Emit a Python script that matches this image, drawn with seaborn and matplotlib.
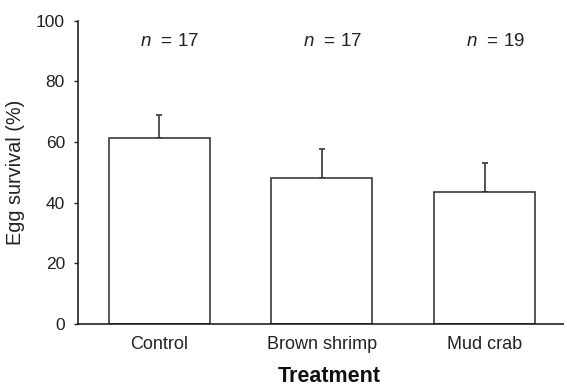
import matplotlib
matplotlib.use("Agg")
import matplotlib.pyplot as plt
import seaborn as sns
import pandas as pd

categories = ["Control", "Brown shrimp", "Mud crab"]
survival = [61.4, 48.0, 43.4]
upper_error = [7.5, 9.8, 9.8]
n_labels = ["17", "17", "19"]

sns.set_theme(style="ticks")
plt.rcParams["font.family"] = ["Liberation Sans", "DejaVu Sans"]
plt.rcParams["mathtext.fontset"] = "custom"
plt.rcParams["mathtext.it"] = "Liberation Sans:italic"
plt.rcParams["mathtext.rm"] = "Liberation Sans"

df = pd.DataFrame({"Treatment": categories, "Survival": survival})

fig = plt.figure(figsize=(5.64, 3.88), dpi=100)
ax = fig.add_axes([0.1378, 0.165, 0.892, 0.782])

sns.barplot(data=df, x="Treatment", y="Survival", ax=ax, color="white",
            edgecolor="#2a2a2a", linewidth=1.1, width=0.62, errorbar=None,
            saturation=1)

ax.errorbar(range(len(categories)), survival,
            yerr=[[0] * len(categories), upper_error],
            fmt="none", ecolor="#444444", elinewidth=1.3, capsize=2.5,
            capthick=1.3, zorder=0)

for i, n in enumerate(n_labels):
    ax.text(i + 0.066, 93.2, r"$\it{n}$  = " + n, ha="center", va="center",
            fontsize=13.5, color="#222222")

ax.set_ylim(0, 100)
ax.set_xlim(-0.5, 2.59)
ax.set_yticks([0, 20, 40, 60, 80, 100])
ax.set_ylabel("Egg survival (%)", fontsize=14.3, color="#222222", labelpad=8)
ax.set_xlabel("Treatment", fontsize=15.5, fontweight="bold", color="#111111",
              labelpad=9)

ax.tick_params(axis="y", length=3.2, width=1, color="#222222",
               labelsize=12.5, labelcolor="#222222", pad=6)
ax.tick_params(axis="x", length=0, labelsize=13, labelcolor="#222222", pad=9)

for s in ["top", "right"]:
    ax.spines[s].set_visible(False)
for s in ["left", "bottom"]:
    ax.spines[s].set_color("#111111")
    ax.spines[s].set_linewidth(1.1)

fig.savefig("out.png", dpi=100)
